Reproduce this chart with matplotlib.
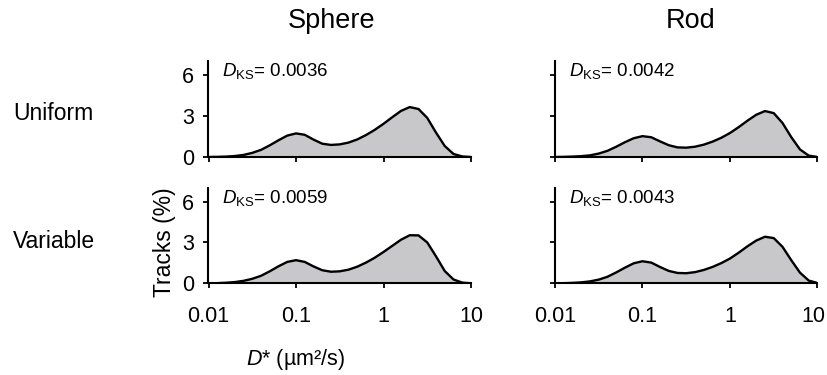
import numpy as np
import matplotlib
matplotlib.use("Agg")
import matplotlib.pyplot as plt
from matplotlib.transforms import ScaledTranslation

plt.rcParams['font.family'] = ['Liberation Sans', 'DejaVu Sans']
plt.rcParams['mathtext.fontset'] = 'custom'
plt.rcParams['mathtext.rm'] = 'Liberation Sans'
plt.rcParams['mathtext.it'] = 'Liberation Sans:italic'
plt.rcParams['mathtext.bf'] = 'Liberation Sans:bold'

# sample positions, log10 of D* (um^2/s)
log_d = [-2.0, -1.9, -1.8, -1.7, -1.6, -1.5, -1.4, -1.3, -1.2, -1.1,
         -1.0, -0.9, -0.8, -0.7, -0.6, -0.5, -0.4, -0.3, -0.2, -0.1,
         0.0, 0.1, 0.2, 0.3, 0.4, 0.5, 0.6, 0.7, 0.8, 0.9, 1.0]

# tracks (%)
sphere_uniform = [0.00, 0.01, 0.03, 0.07, 0.15, 0.30, 0.52, 0.85, 1.22, 1.56,
                  1.72, 1.62, 1.27, 0.97, 0.88, 0.92, 1.05, 1.28, 1.60, 1.98,
                  2.42, 2.90, 3.36, 3.64, 3.50, 2.85, 1.78, 0.80, 0.22, 0.04, 0.00]
rod_uniform = [0.00, 0.01, 0.03, 0.06, 0.12, 0.25, 0.45, 0.75, 1.08, 1.37,
               1.52, 1.44, 1.14, 0.86, 0.70, 0.68, 0.75, 0.90, 1.12, 1.40,
               1.75, 2.18, 2.65, 3.08, 3.35, 3.20, 2.48, 1.45, 0.55, 0.10, 0.00]
sphere_variable = [0.00, 0.01, 0.04, 0.09, 0.18, 0.33, 0.55, 0.88, 1.25, 1.57,
                   1.70, 1.57, 1.24, 0.96, 0.85, 0.88, 1.00, 1.22, 1.52, 1.88,
                   2.30, 2.75, 3.20, 3.53, 3.52, 3.00, 1.98, 0.90, 0.28, 0.05, 0.00]
rod_variable = [0.00, 0.01, 0.03, 0.07, 0.14, 0.27, 0.48, 0.80, 1.15, 1.47,
                1.62, 1.52, 1.20, 0.91, 0.76, 0.74, 0.82, 0.98, 1.20, 1.48,
                1.82, 2.25, 2.72, 3.14, 3.42, 3.32, 2.68, 1.70, 0.78, 0.20, 0.02]

dks = [["0.0036", "0.0042"], ["0.0059", "0.0043"]]
curves = [[sphere_uniform, rod_uniform], [sphere_variable, rod_variable]]
col_titles = ["Sphere", "Rod"]
row_titles = ["Uniform", "Variable"]
x_ticks = [0.01, 0.1, 1, 10]
x_ticklabels = ["0.01", "0.1", "1", "10"]
y_ticks = [0, 3, 6]

W, H = 828, 375
fig = plt.figure(figsize=(W / 100, H / 100), dpi=100)

# axes boxes in pixels: left, right, y of zero line, y of top
col_px = [(208.5, 471), (555, 817.5)]
row_px = [(157, 61), (283.3, 188)]

D = 10 ** np.array(log_d)
fill_c = '#c8c8ca'

for r in range(2):
    for c in range(2):
        x0, x1 = col_px[c]
        yb, yt = row_px[r]
        ax = fig.add_axes([x0 / W, 1 - yb / H, (x1 - x0) / W, (yb - yt) / H])
        y = np.array(curves[r][c])
        ax.fill_between(D, 0, y, color=fill_c, lw=0)
        ax.plot(D, y, color='black', lw=1.7, solid_joinstyle='round')
        ax.set_xscale('log')
        ax.set_xlim(0.01, 10)
        ax.set_ylim(0, 7)
        ax.minorticks_off()
        ax.set_xticks(x_ticks)
        ax.set_yticks(y_ticks)
        for s in ['top', 'right']:
            ax.spines[s].set_visible(False)
        for s in ['left', 'bottom']:
            ax.spines[s].set_linewidth(1.5)
        ax.tick_params(axis='both', direction='out', length=3.5, width=1.3,
                       labelsize=15.5)
        ax.tick_params(axis='x', pad=13)
        ax.tick_params(axis='y', pad=7)
        if r == 1:
            ax.set_xticklabels(x_ticklabels)
            if c == 1:
                # keep the last label inside the figure
                lab = ax.get_xticklabels()[-1]
                lab.set_transform(lab.get_transform() +
                                  ScaledTranslation(-0.04, 0, fig.dpi_scale_trans))
        else:
            ax.set_xticklabels([])
        if c == 1:
            ax.set_yticklabels([])
        ax.text(0.052, 0.84, r'$D_{\mathrm{KS}}$= ' + dks[r][c],
                transform=ax.transAxes, fontsize=13.5, va='baseline', ha='left')

fig.text(332 / W, 1 - 28 / H, col_titles[0], fontsize=19.5, ha='center', va='baseline')
fig.text(691 / W, 1 - 28 / H, col_titles[1], fontsize=19.5, ha='center', va='baseline')
fig.text(13 / W, 1 - 120 / H, row_titles[0], fontsize=16.5, ha='left', va='baseline')
fig.text(13 / W, 1 - 248 / H, row_titles[1], fontsize=16.5, ha='left', va='baseline')
fig.text(165 / W, 1 - 242 / H, "Tracks (%)", fontsize=16.5, rotation=90,
         ha='center', va='center')
fig.text(295 / W, 1 - 365 / H, r'$D$* (µm²/s)', fontsize=15.5, ha='center', va='baseline')

fig.savefig("out.png", dpi=100)
